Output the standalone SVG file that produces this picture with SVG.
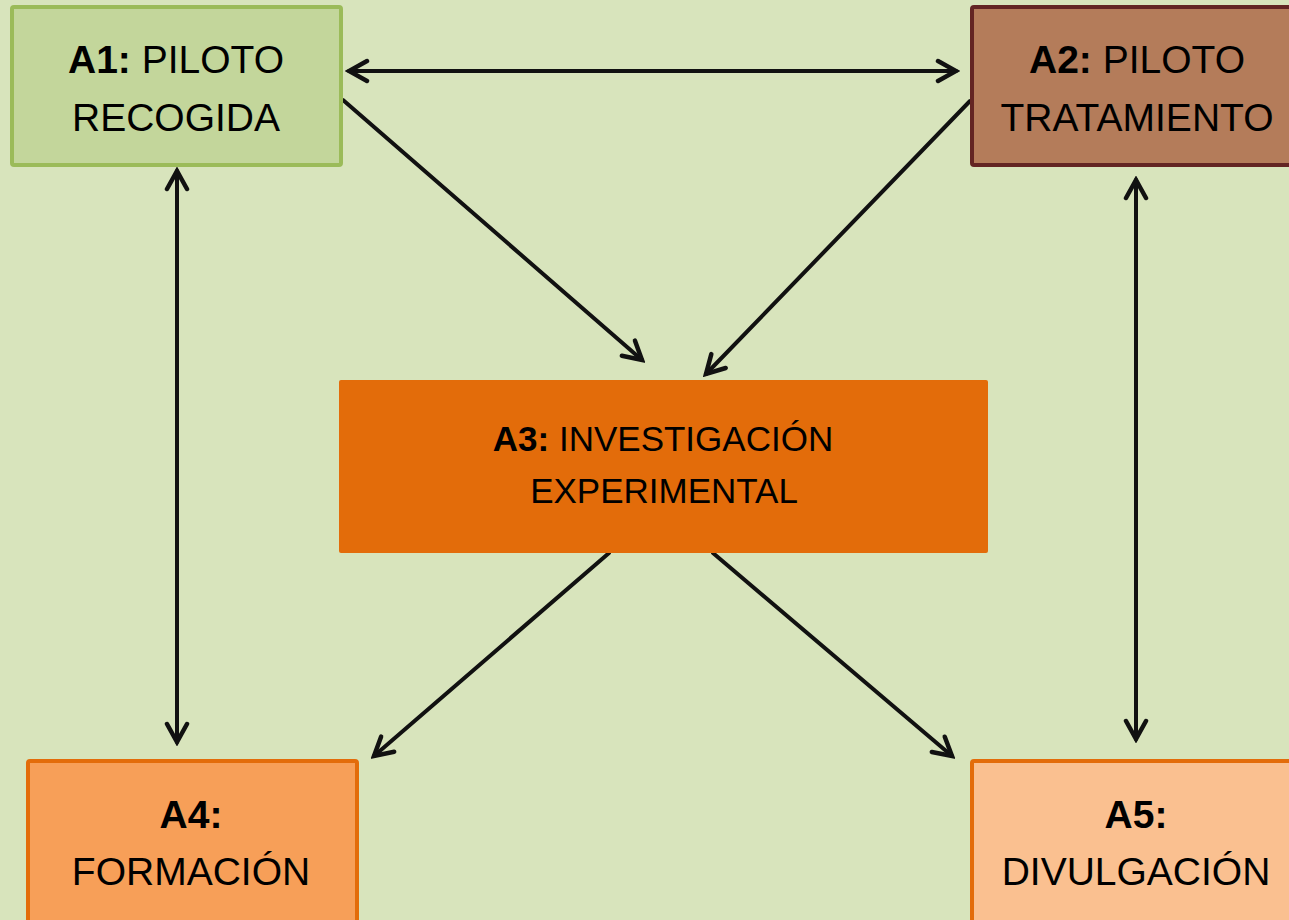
<svg xmlns="http://www.w3.org/2000/svg" width="1289" height="920" viewBox="0 0 1289 920">
<defs>
<style>
.t{font-family:"Liberation Sans",Arial,sans-serif;font-size:39px;fill:#000;text-anchor:middle}
.s{font-size:35px}
.b{font-weight:bold}
.c{fill:none;stroke:#111;stroke-width:4;stroke-linecap:round}
</style>
<marker id="ah" viewBox="-22 -13 26 26" markerWidth="26" markerHeight="26" refX="0" refY="0" orient="auto-start-reverse" markerUnits="userSpaceOnUse">
<path d="M-18,-10 L0,0 L-18,10" fill="none" stroke="#111" stroke-width="4.5" stroke-linecap="round" stroke-linejoin="miter"/>
</marker>
</defs>
<rect width="1289" height="920" fill="#D8E4BC"/>
<g id="connectors">
<line class="c" x1="349" y1="71" x2="956" y2="71" marker-start="url(#ah)" marker-end="url(#ah)"/>
<line class="c" x1="343" y1="100" x2="642" y2="360" marker-end="url(#ah)"/>
<line class="c" x1="970" y1="101" x2="706" y2="374" marker-end="url(#ah)"/>
<line class="c" x1="609" y1="553" x2="374" y2="756" marker-end="url(#ah)"/>
<line class="c" x1="713" y1="553" x2="952" y2="756" marker-end="url(#ah)"/>
<line class="c" x1="177" y1="171" x2="177" y2="742" marker-start="url(#ah)" marker-end="url(#ah)"/>
<line class="c" x1="1136" y1="180" x2="1136" y2="739" marker-start="url(#ah)" marker-end="url(#ah)"/>
</g>
<g id="A1">
<rect x="12" y="7" width="329" height="158" rx="2" fill="#C3D69B" stroke="#9BBB59" stroke-width="4"/>
<text class="t" x="176" y="73"><tspan class="b">A1:</tspan> PILOTO</text>
<text class="t" x="176" y="131">RECOGIDA</text>
</g>
<g id="A2">
<rect x="972" y="7" width="330" height="158" rx="2" fill="#B47C5A" stroke="#632523" stroke-width="4"/>
<text class="t" x="1137" y="73"><tspan class="b">A2:</tspan> PILOTO</text>
<text class="t" x="1137" y="131">TRATAMIENTO</text>
</g>
<g id="A3">
<rect x="339" y="380" width="649" height="173" rx="2" fill="#E36C0A"/>
<text class="t s" x="663" y="451"><tspan class="b">A3:</tspan> INVESTIGACIÓN</text>
<text class="t s" x="664" y="503">EXPERIMENTAL</text>
</g>
<g id="A4">
<rect x="28" y="761" width="329" height="170" rx="2" fill="#F79F58" stroke="#E36C0A" stroke-width="4"/>
<text class="t b" x="191" y="828">A4:</text>
<text class="t" x="191" y="885">FORMACIÓN</text>
</g>
<g id="A5">
<rect x="972" y="761" width="330" height="170" rx="2" fill="#FAC090" stroke="#E36C0A" stroke-width="4"/>
<text class="t b" x="1136" y="828">A5:</text>
<text class="t" x="1136" y="885">DIVULGACIÓN</text>
</g>
</svg>
